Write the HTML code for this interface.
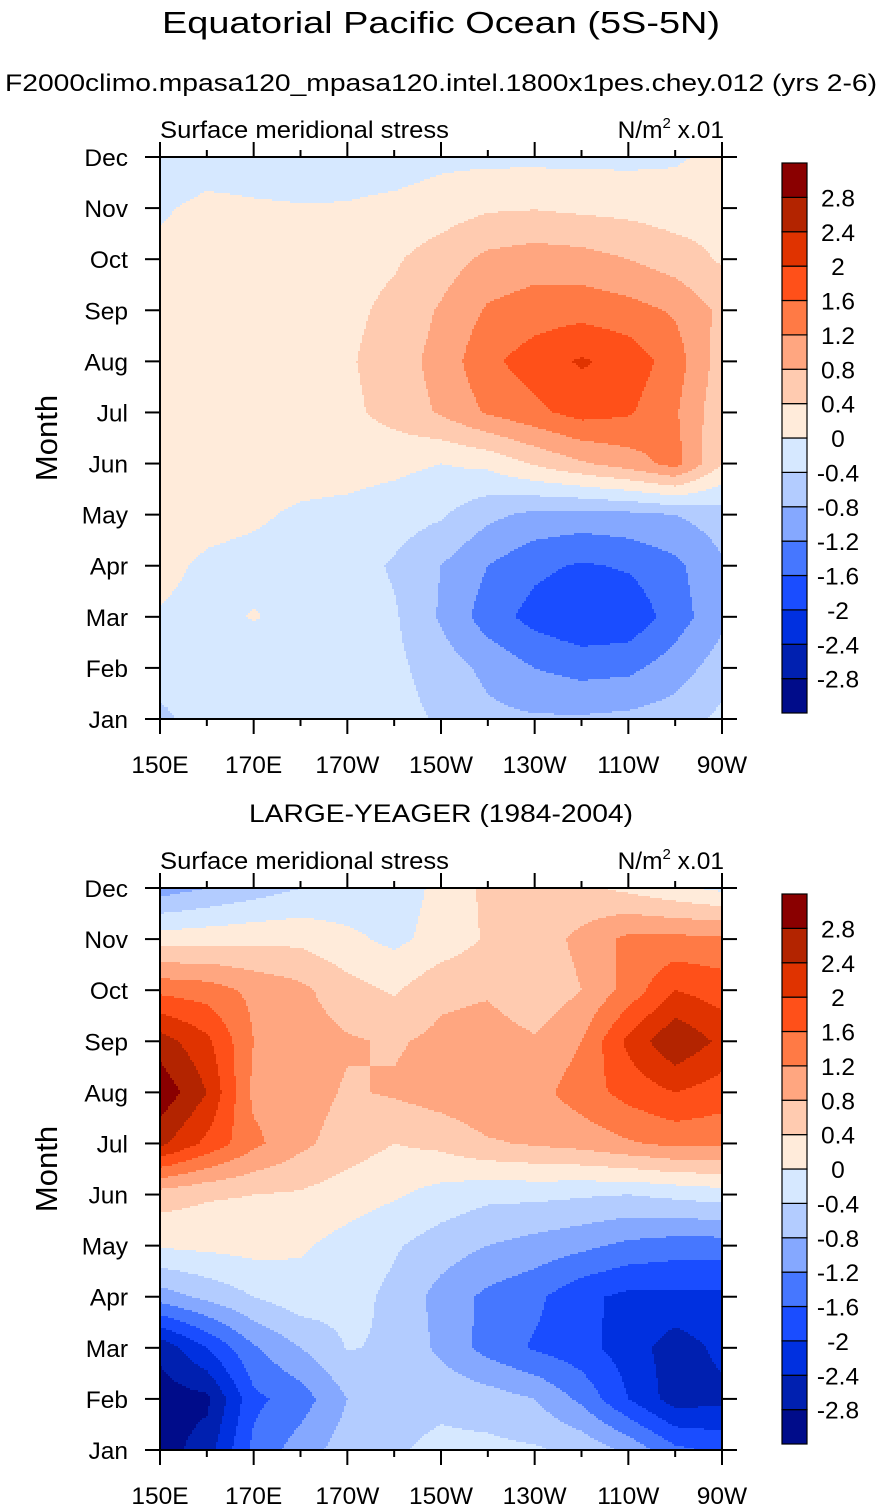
<!DOCTYPE html>
<html><head><meta charset="utf-8"><style>
html,body{margin:0;padding:0;background:#fff;}
svg{display:block;font-family:"Liberation Sans",Arial,sans-serif;}
</style></head><body>
<svg id="fig" width="882" height="1509" viewBox="0 0 882 1509" xmlns="http://www.w3.org/2000/svg">
<text x="441" y="33" font-size="31" text-anchor="middle" textLength="558" lengthAdjust="spacingAndGlyphs">Equatorial Pacific Ocean (5S-5N)</text>
<text x="441" y="91" font-size="24" text-anchor="middle" textLength="872" lengthAdjust="spacingAndGlyphs">F2000climo.mpasa120_mpasa120.intel.1800x1pes.chey.012 (yrs 2-6)</text>
<text x="441" y="822" font-size="25" text-anchor="middle" textLength="384" lengthAdjust="spacingAndGlyphs">LARGE-YEAGER (1984-2004)</text>
</svg>
<script>
// longitudes (deg east), months, levels
const lons = [150,160,170,180,190,200,210,220,230,240,250,260,270];
const months = ["Jan","Feb","Mar","Apr","May","Jun","Jul","Aug","Sep","Oct","Nov","Dec"];
const xTickLons = [150,170,190,210,230,250,270];
const xTickLabels = ["150E","170E","170W","150W","130W","110W","90W"];
const levels = [-2.8,-2.4,-2,-1.6,-1.2,-0.8,-0.4,0,0.4,0.8,1.2,1.6,2,2.4,2.8];
const levelLabels = ["-2.8","-2.4","-2","-1.6","-1.2","-0.8","-0.4","0","0.4","0.8","1.2","1.6","2","2.4","2.8"];
const colors = ["#000c8a","#0020b0","#0030e0","#1a4dff","#4677ff","#85a8ff","#b3ccff","#d6e8ff","#ffebda","#ffcbb0","#ffa680","#ff7a45","#ff5019","#e03300","#b32400","#8a0000"];
// model: rows Jan..Dec, columns lons
const modelJan = [-0.5,-0.2,-0.2,-0.2,-0.2,-0.25,-0.45,-0.7,-0.75,-0.75,-0.7,-0.6,-0.3];
const modelFeb = [-0.2,-0.2,-0.2,-0.2,-0.2,-0.3,-0.6,-0.9,-1.2,-1.35,-1.3,-1.0,-0.6];
const modelMar = [-0.02,-0.1,0.02,-0.1,-0.2,-0.35,-0.85,-1.4,-1.75,-1.95,-1.9,-1.4,-0.9];
const modelApr = [0.08,-0.05,-0.1,-0.15,-0.2,-0.45,-0.8,-1.2,-1.5,-1.65,-1.55,-1.3,-0.85];
const modelMay = [0.2,0.1,0.05,-0.05,-0.1,-0.2,-0.35,-0.7,-0.9,-0.95,-0.9,-0.8,-0.6];
const modelJun = [0.2,0.15,0.15,0.15,0.15,0.1,0.0,0.1,0.45,0.75,1.0,1.35,0.4];
const modelJul = [0.2,0.2,0.2,0.25,0.3,0.55,0.85,1.25,1.5,1.75,1.65,1.25,0.5];
const modelAug = [0.2,0.2,0.25,0.3,0.35,0.6,0.95,1.5,1.8,2.05,1.85,1.4,0.6];
const modelSep = [0.15,0.2,0.2,0.25,0.3,0.5,0.85,1.25,1.4,1.45,1.35,1.15,0.7];
const modelOct = [0.1,0.15,0.15,0.2,0.25,0.35,0.6,0.9,1.0,0.95,0.8,0.6,0.35];
const modelNov = [-0.05,0.1,0.05,0.02,0.03,0.1,0.2,0.35,0.38,0.32,0.28,0.2,0.25];
const modelDec = [-0.3,-0.2,-0.2,-0.2,-0.2,-0.2,-0.1,-0.1,-0.1,-0.1,-0.1,-0.05,0.1];
// observations (LARGE-YEAGER)
const obsJan = [-3.0,-2.6,-1.5,-1.0,-0.6,-0.45,-0.3,-0.3,-0.35,-0.5,-0.9,-1.5,-1.7];
const obsFeb = [-3.0,-2.9,-1.7,-1.4,-0.8,-0.55,-0.5,-0.6,-0.8,-1.3,-2.0,-2.6,-2.5];
const obsMar = [-2.7,-2.0,-1.25,-0.8,-0.38,-0.45,-0.9,-1.35,-1.65,-1.85,-2.2,-2.6,-2.3];
const obsApr = [-1.0,-0.7,-0.4,-0.15,-0.25,-0.5,-0.95,-1.3,-1.5,-1.9,-2.1,-2.1,-2.1];
const obsMay = [0.05,0.1,0.15,0.05,-0.15,-0.35,-0.6,-0.8,-0.95,-1.1,-1.3,-1.4,-1.4];
const obsJun = [0.6,0.45,0.4,0.35,0.2,0.05,-0.15,-0.3,-0.3,-0.35,-0.4,-0.3,-0.2];
const obsJul = [2.5,1.9,1.3,0.9,0.6,0.4,0.5,0.75,0.85,0.95,1.15,1.3,1.3];
const obsAug = [3.1,2.4,1.1,1.0,0.75,0.85,1.0,1.15,1.05,1.4,1.75,2.0,1.8];
const obsSep = [2.6,2.1,1.2,1.0,0.85,0.75,0.9,1.0,0.85,1.2,2.1,2.75,2.3];
const obsOct = [1.5,1.4,1.1,0.9,0.55,0.35,0.7,0.75,0.5,0.8,1.35,2.0,1.8];
const obsNov = [0.2,0.25,0.3,0.3,0.1,-0.1,0.15,0.45,0.6,0.9,1.3,1.3,1.3];
const obsDec = [-1.0,-0.8,-0.6,-0.4,-0.3,-0.2,0.1,0.5,0.6,0.5,0.3,0.1,-0.1];

const modelGrid = [modelJan,modelFeb,modelMar,modelApr,modelMay,modelJun,modelJul,modelAug,modelSep,modelOct,modelNov,modelDec];
const obsGrid = [obsJan,obsFeb,obsMar,obsApr,obsMay,obsJun,obsJul,obsAug,obsSep,obsOct,obsNov,obsDec];

const NS = "http://www.w3.org/2000/svg";
const svg = document.getElementById("fig");
function mk(tag, attrs, parent){
  const e = document.createElementNS(NS, tag);
  for (const k in attrs) e.setAttribute(k, attrs[k]);
  (parent||svg).appendChild(e);
  return e;
}
function colorIndex(v){
  let i = 0;
  while (i < levels.length && v >= levels[i]) i++;
  return i;
}
function panel(grid, top, prefix){
  const L = 160, R = 722, T = top, B = top + 562;
  const xScale = lon => L + (lon - lons[0]) / (lons[lons.length-1] - lons[0]) * (R - L);
  const yScale = m => B - m / (months.length - 1) * (B - T);
  const g = mk("g", {});
  
  
  const step = 2;
  const nC = lons.length - 1, nR = months.length - 1;
  for (let py = T; py < B; py += step) {
    const fy = (B - (py + step/2)) / (B - T) * nR;
    const r0 = Math.min(Math.floor(fy), nR - 1), ty = fy - r0;
    let runStart = L, runCol = -1;
    for (let px = L; px <= R; px += step) {
      let ci = -1;
      if (px < R) {
        const fx = (px + step/2 - L) / (R - L) * nC;
        const c0 = Math.min(Math.floor(fx), nC - 1), tx = fx - c0;
        const v = (grid[r0][c0]*(1-tx) + grid[r0][c0+1]*tx)*(1-ty) + (grid[r0+1][c0]*(1-tx) + grid[r0+1][c0+1]*tx)*ty;
        ci = colorIndex(v);
      }
      if (ci !== runCol) {
        if (runCol >= 0) {
          const rc = mk("rect", {x: runStart, y: py, width: px - runStart + 0.5, height: step + 0.5, fill: colors[runCol]}, g);
          
          
        }
        runStart = px; runCol = ci;
      }
    }
  }
  const fr = mk("rect", {x: L, y: T, width: R - L, height: B - T, fill: "none", stroke: "#000", "stroke-width": 2});
  
  
  months.forEach((m, i) => {
    const y = yScale(i);
    mk("line", {x1: L - 15, x2: L, y1: y, y2: y, stroke: "#000", "stroke-width": 2});
    mk("line", {x1: R, x2: R + 15, y1: y, y2: y, stroke: "#000", "stroke-width": 2});
    const t = mk("text", {x: 128, y: y + 9, "font-size": 24.5, "text-anchor": "end"});
    t.textContent = m;
    
    
  });
  lons.forEach(lon => {
    const x = xScale(lon);
    const major = xTickLons.indexOf(lon) >= 0;
    const len = major ? 15 : 7;
    mk("line", {x1: x, x2: x, y1: B, y2: B + len, stroke: "#000", "stroke-width": 2});
    mk("line", {x1: x, x2: x, y1: T - len, y2: T, stroke: "#000", "stroke-width": 2});
  });
  xTickLons.forEach((lon, i) => {
    const t = mk("text", {x: xScale(lon), y: B + 54, "font-size": 24.5, "text-anchor": "middle"});
    t.textContent = xTickLabels[i];
    
    
  });
  const yt = mk("text", {x: 0, y: 0, "font-size": 31, "text-anchor": "middle", transform: `translate(57,${(T+B)/2}) rotate(-90)`});
  yt.textContent = "Month";
  
  
  const ls = mk("text", {x: L, y: T - 19, "font-size": 24.5, textLength: 289, lengthAdjust: "spacingAndGlyphs"});
  ls.textContent = "Surface meridional stress";
  
  
  const us = mk("text", {x: R + 2, y: T - 19, "font-size": 24.5, "text-anchor": "end"});
  us.innerHTML = 'N/m<tspan dy="-10" font-size="15">2</tspan><tspan dy="10"> x.01</tspan>';
  
  
  const cbT = T + 6, cbB = T + 556, cbL = 782, cbW = 25;
  const n = colors.length, h = (cbB - cbT) / n;
  for (let k = 0; k < n; k++) {
    const y = cbB - (k + 1) * h;
    const b = mk("rect", {x: cbL, y: y, width: cbW, height: h, fill: colors[k], stroke: "#000", "stroke-width": 1.2});
    
    
  }
  levels.forEach((lv, k) => {
    const y = cbB - (k + 1) * h;
    const t = mk("text", {x: 838, y: y + 9, "font-size": 24.5, "text-anchor": "middle"});
    t.textContent = levelLabels[k];
    
    
  });
}
panel(modelGrid, 157, "model");
panel(obsGrid, 888, "observations");
</script>
</body></html>
